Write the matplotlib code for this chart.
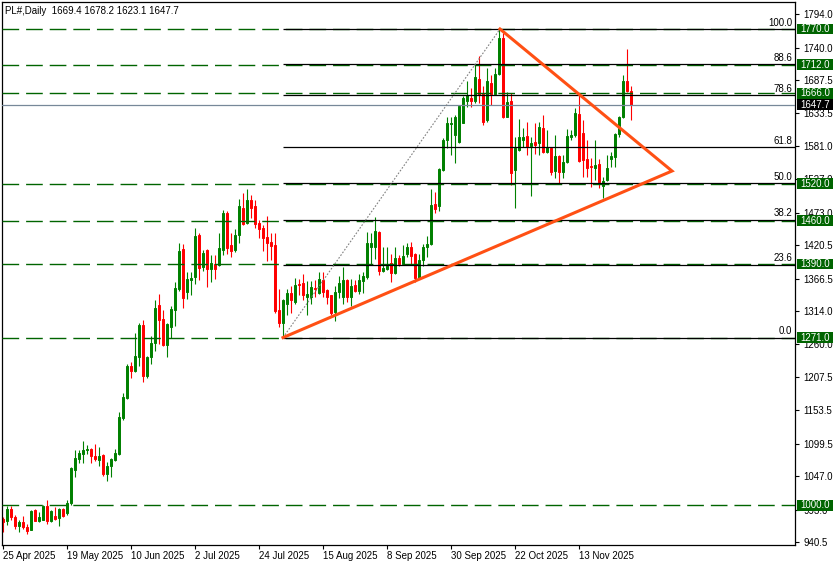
import matplotlib
matplotlib.use("Agg")
import matplotlib.pyplot as plt
from matplotlib.patches import Rectangle
from matplotlib.transforms import blended_transform_factory

plt.rcParams['font.family'] = ['Liberation Sans', 'DejaVu Sans']

# daily OHLC (bar 0 = 25 Apr 2025)
opens = [
    977.7, 973.9, 993.9, 980.9, 965.8, 972.3, 965.3, 960.5, 992.3, 973.9,
    976.7, 998.3, 975.1, 983.2, 978.8, 993.4, 987.0, 1003.2, 1057.2, 1075.0,
    1083.2, 1089.7, 1090.8, 1079.4, 1073.4, 1081.0, 1050.7, 1063.7, 1073.0, 1083.2,
    1140.6, 1174.1, 1225.5, 1217.4, 1240.1, 1292.0, 1209.3, 1240.1, 1261.7, 1324.5,
    1301.8, 1259.6, 1288.8, 1316.4, 1348.9, 1413.8, 1344.0, 1363.5, 1368.3, 1436.5,
    1384.6, 1412.2, 1381.8, 1389.4, 1388.3, 1412.6, 1472.2, 1420.3, 1412.2, 1436.5,
    1480.3, 1456.5, 1493.3, 1483.6, 1456.5, 1447.9, 1433.3, 1425.6, 1420.3, 1316.4,
    1295.3, 1326.1, 1342.8, 1327.8, 1358.1, 1358.6, 1336.4, 1336.4, 1350.5, 1342.8,
    1363.5, 1347.2, 1339.1, 1312.0, 1344.5, 1336.4, 1363.5, 1336.4, 1355.3, 1345.6,
    1362.3, 1368.8, 1417.5, 1417.5, 1441.8, 1378.1, 1381.3, 1391.5, 1376.0, 1399.6,
    1390.6, 1406.8, 1417.5, 1406.8, 1367.2, 1395.9, 1417.5, 1421.9, 1486.3, 1483.6,
    1542.0, 1590.7, 1617.0, 1598.8, 1587.9, 1618.8, 1652.8, 1658.3, 1652.8, 1689.2,
    1665.3, 1623.1, 1682.7, 1665.3, 1697.3, 1755.7, 1628.5, 1652.8, 1542.0, 1574.4,
    1590.7, 1597.2, 1580.9, 1587.4, 1586.3, 1610.6, 1571.7, 1578.2, 1540.4, 1564.7,
    1539.2, 1555.5, 1595.1, 1598.8, 1632.4, 1601.5, 1559.4, 1549.0, 1545.7, 1551.7,
    1516.0, 1525.8, 1559.4, 1563.6, 1599.9, 1628.5, 1686.4, 1669.4,
]
highs = [
    980.4, 999.4, 998.3, 984.8, 975.6, 982.5, 969.5, 991.8, 993.9, 988.6,
    1001.0, 1008.0, 992.9, 996.6, 995.5, 995.5, 1008.0, 1061.6, 1089.2, 1089.2,
    1103.8, 1097.3, 1092.9, 1098.4, 1094.5, 1082.5, 1069.2, 1075.5, 1090.8, 1150.8,
    1181.2, 1228.3, 1232.0, 1278.6, 1294.0, 1300.2, 1241.0, 1274.2, 1331.0, 1341.9,
    1316.4, 1295.0, 1322.9, 1360.2, 1423.5, 1421.9, 1376.9, 1376.9, 1447.9, 1440.0,
    1412.2, 1415.0, 1404.0, 1404.0, 1439.7, 1477.1, 1475.5, 1439.7, 1447.4, 1494.9,
    1504.7, 1511.2, 1501.4, 1493.3, 1460.8, 1452.7, 1467.3, 1439.7, 1439.7, 1348.9,
    1333.0, 1348.9, 1354.9, 1366.7, 1366.2, 1373.2, 1361.8, 1361.8, 1363.5, 1376.9,
    1376.9, 1348.9, 1340.5, 1354.2, 1369.9, 1385.0, 1365.1, 1365.1, 1363.5, 1374.3,
    1376.9, 1441.8, 1440.2, 1465.7, 1444.0, 1417.5, 1417.5, 1406.8, 1417.5, 1405.2,
    1421.4, 1424.6, 1425.6, 1408.0, 1406.8, 1423.0, 1435.4, 1511.2, 1506.8, 1545.0,
    1593.4, 1628.5, 1628.5, 1631.3, 1647.5, 1660.9, 1685.3, 1674.6, 1712.4, 1727.0,
    1677.2, 1707.0, 1696.2, 1707.0, 1770.0, 1763.9, 1667.4, 1666.5, 1596.0, 1625.2,
    1609.7, 1620.4, 1596.0, 1617.8, 1620.4, 1631.3, 1606.9, 1580.0, 1598.8, 1566.3,
    1566.3, 1608.0, 1606.9, 1642.1, 1663.7, 1623.1, 1590.7, 1561.0, 1590.7, 1559.4,
    1531.1, 1566.3, 1571.7, 1601.5, 1629.6, 1696.2, 1737.9, 1678.2,
]
lows = [
    956.6, 967.9, 976.7, 961.4, 956.6, 962.1, 953.3, 959.3, 973.9, 972.3,
    975.6, 970.2, 972.8, 975.6, 966.3, 980.9, 984.8, 1000.4, 1045.8, 1068.6,
    1068.6, 1082.2, 1068.6, 1071.3, 1063.2, 1047.4, 1038.8, 1045.4, 1070.8, 1081.0,
    1137.4, 1172.4, 1204.9, 1215.8, 1225.5, 1200.0, 1204.9, 1228.3, 1248.7, 1260.7,
    1257.0, 1239.0, 1269.8, 1290.4, 1347.0, 1318.5, 1333.1, 1339.1, 1357.5, 1363.5,
    1378.5, 1352.6, 1360.7, 1365.6, 1386.0, 1404.5, 1406.2, 1401.3, 1409.5, 1423.5,
    1453.2, 1455.5, 1464.1, 1447.9, 1432.8, 1411.0, 1394.8, 1395.9, 1311.5, 1287.7,
    1271.0, 1308.3, 1310.4, 1325.6, 1339.1, 1331.0, 1308.3, 1325.6, 1336.4, 1341.9,
    1336.4, 1325.6, 1308.3, 1298.5, 1335.4, 1325.6, 1328.2, 1322.9, 1344.5, 1341.9,
    1342.8, 1366.0, 1388.9, 1398.7, 1372.6, 1376.9, 1379.7, 1360.7, 1373.2, 1386.2,
    1387.8, 1401.3, 1389.4, 1360.7, 1365.1, 1386.6, 1401.3, 1420.0, 1471.7, 1476.0,
    1540.0, 1577.2, 1566.3, 1552.9, 1585.0, 1617.8, 1644.7, 1643.7, 1650.2, 1650.2,
    1615.0, 1620.0, 1647.5, 1663.7, 1695.0, 1626.0, 1627.5, 1517.6, 1480.8, 1572.0,
    1578.8, 1566.3, 1500.3, 1567.9, 1566.3, 1570.1, 1570.0, 1533.9, 1528.5, 1520.4,
    1528.5, 1552.9, 1590.7, 1596.0, 1555.0, 1530.1, 1531.1, 1514.9, 1525.8, 1513.3,
    1496.0, 1524.5, 1546.4, 1547.3, 1596.0, 1626.0, 1668.0, 1623.1,
]
closes = [
    972.8, 994.6, 980.4, 966.9, 972.8, 964.2, 958.2, 990.7, 975.1, 980.9,
    998.3, 973.9, 991.3, 977.7, 993.9, 982.5, 1004.3, 1060.5, 1076.7, 1084.8,
    1089.7, 1091.3, 1078.9, 1075.0, 1079.4, 1049.7, 1063.7, 1074.6, 1084.3, 1142.7,
    1175.2, 1225.5, 1217.4, 1241.7, 1292.0, 1209.3, 1240.1, 1262.8, 1319.6, 1300.2,
    1259.6, 1293.7, 1318.0, 1350.5, 1410.5, 1334.3, 1365.1, 1367.2, 1434.9, 1383.4,
    1407.3, 1381.8, 1391.1, 1381.8, 1415.4, 1472.2, 1415.4, 1411.0, 1436.5, 1483.6,
    1454.8, 1493.3, 1480.8, 1454.8, 1446.3, 1431.6, 1423.5, 1418.6, 1314.8, 1295.3,
    1331.0, 1342.8, 1331.0, 1355.3, 1356.5, 1339.1, 1340.7, 1352.1, 1348.9, 1365.1,
    1344.5, 1336.4, 1310.4, 1344.5, 1359.1, 1363.5, 1336.4, 1354.2, 1345.6, 1363.5,
    1370.4, 1424.0, 1424.0, 1443.0, 1378.1, 1383.4, 1386.6, 1375.3, 1399.6, 1390.6,
    1402.9, 1417.5, 1402.9, 1367.2, 1397.0, 1417.5, 1423.0, 1485.2, 1478.7, 1543.1,
    1590.7, 1617.8, 1618.5, 1628.5, 1645.9, 1658.3, 1663.7, 1652.8, 1692.4, 1663.7,
    1620.4, 1685.3, 1665.3, 1697.8, 1755.7, 1628.5, 1651.9, 1537.6, 1578.2, 1596.0,
    1596.0, 1579.8, 1585.3, 1582.6, 1612.3, 1571.7, 1578.8, 1539.2, 1564.7, 1538.3,
    1555.5, 1597.2, 1598.8, 1634.0, 1557.1, 1558.2, 1545.7, 1547.3, 1550.1, 1523.0,
    1524.1, 1544.8, 1564.7, 1599.9, 1628.5, 1685.3, 1669.6, 1647.7,
]

date_pos = [0, 16, 32, 48, 64, 80, 96, 112, 128, 144]
date_labels = ['25 Apr 2025', '19 May 2025', '10 Jun 2025', '2 Jul 2025',
               '24 Jul 2025', '15 Aug 2025', '8 Sep 2025', '30 Sep 2025',
               '22 Oct 2025', '13 Nov 2025']
price_ticks = [1794.0, 1740.0, 1687.5, 1633.5, 1581.0, 1527.0, 1473.0, 1420.5,
               1366.5, 1314.0, 1260.0, 1207.5, 1153.5, 1099.5, 1047.0, 993.0, 940.5]

levels = [1770.0, 1712.0, 1666.0, 1520.0, 1460.0, 1390.0, 1271.0, 1000.0]
last_price = 1647.7

fib_low, fib_high = 1271.0, 1770.0
fib_low_bar, fib_high_bar = 70, 124.25
fib_ratios = [0.0, 23.6, 38.2, 50.0, 61.8, 78.6, 88.6, 100.0]

# triangle: lower side from the fib low, upper from the fib high, meeting at apex
apex_bar, apex_price = 167.25, 1540.4

GREEN = '#008000'
RED = '#ff0000'
LEVEL = '#006400'
ORANGE = '#ff5014'

fig = plt.figure(figsize=(8.36, 5.66), dpi=100)
ax = fig.add_axes([2 / 836, 21 / 566, 793 / 836, 543 / 566])
xmin, xmax = -0.25, 198.0
ax.set_xlim(xmin, xmax)
ax.set_ylim(935.6, 1813.7)

# candles
for i, (o, h, l, c) in enumerate(zip(opens, highs, lows, closes)):
    col = GREEN if c >= o else RED
    ax.vlines(i, l, h, color=col, lw=0.8, zorder=2)
    ax.bar(i, abs(c - o), bottom=min(o, c), width=0.55, color=col,
           edgecolor=col, linewidth=0.7, zorder=2)

# horizontal levels
for p in levels:
    ax.axhline(p, color=LEVEL, lw=1.0, dashes=(12, 5), zorder=3)
ax.axhline(last_price, color='#778899', lw=0.9, zorder=3)

# fibonacci retracement
for r in fib_ratios:
    p = fib_low + (fib_high - fib_low) * r / 100
    ax.hlines(p, fib_low_bar, xmax, color='black', lw=0.9, zorder=3)
    ax.annotate(f'{r:.1f}', xy=(1, p), xycoords=('axes fraction', 'data'),
                xytext=(-2, 1), textcoords='offset points', ha='right',
                va='bottom', fontsize=7, zorder=6)
ax.plot([fib_low_bar, fib_high_bar], [fib_low, fib_high], color='#808080',
        lw=0.8, dashes=(1.5, 1.5), zorder=3)

# triangle
ax.plot([fib_low_bar, apex_bar, fib_high_bar], [fib_low, apex_price, fib_high],
        color=ORANGE, lw=2.2, solid_joinstyle='miter', zorder=4)

# axes styling
for s in ax.spines.values():
    s.set_linewidth(0.9)
ax.yaxis.tick_right()
ax.set_yticks(price_ticks)
ax.set_yticklabels([f'{v:.1f}' for v in price_ticks])
ax.set_xticks(date_pos)
ax.set_xticklabels(date_labels, ha='left')
ax.tick_params(axis='both', direction='out', length=3, width=0.8,
               labelsize=7, pad=1.5)
ax.tick_params(axis='y', pad=3)

# price labels on the right scale
tr = blended_transform_factory(fig.transFigure, ax.transData)
box_h = 17.5
for p, fc in [(v, LEVEL) for v in levels] + [(last_price, 'black')]:
    ax.add_patch(Rectangle((797 / 836, p - box_h / 2), 36 / 836, box_h,
                           transform=tr, facecolor=fc, edgecolor='none',
                           clip_on=False, zorder=8))
    ax.text(800 / 836, p, f'{p:.1f}', transform=tr, color='white', fontsize=7,
            ha='left', va='center', clip_on=False, zorder=9)

fig.text(5 / 836, 1 - 11 / 566, 'PL#,Daily  1669.4 1678.2 1623.1 1647.7',
         fontsize=7, ha='left', va='center')

fig.savefig('out.png', dpi=100)
